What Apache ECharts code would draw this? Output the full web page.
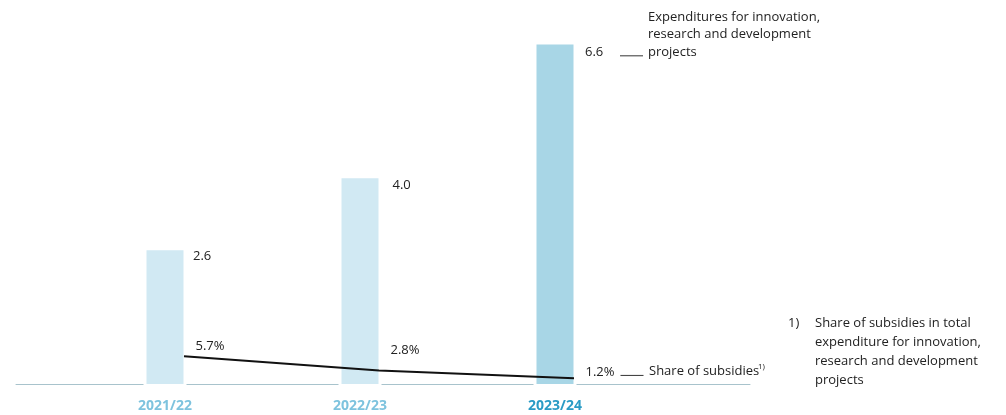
<!DOCTYPE html>
<html lang="en">
<head>
    <meta charset="UTF-8">
    <title>Innovation expenditures</title>
    <script src="https://cdn.jsdelivr.net/npm/echarts@6/dist/echarts.min.js"></script>
    <style>
        html, body { margin: 0; padding: 0; background: #fff; }
        #chart { width: 1006px; height: 415px; }
    </style>
</head>
<body>
    <div id="chart"></div>
    <script>
        // data
        const years = ['2021/22', '2022/23', '2023/24'];
        const expenditures = [2.6, 4.0, 6.6];          // bars
        const subsidyShare = [5.7, 2.8, 1.2];          // line, percent
        const barLegend = 'Expenditures for innovation,\nresearch and development\nprojects';
        const lineLegend = 'Share of subsidies';
        const footnoteMark = '1)';
        const footnote = 'Share of subsidies in total\nexpenditure for innovation,\nresearch and development\nprojects';

        // label nudges (style only)
        const barLabelPos = [[46.5, 6], [51, 7], [48.5, 8]];
        const lineLabelDy = [-10, -20, -6];

        const font = '"Open Sans", "Noto Sans", sans-serif';
        const ink = '#222';
        const barColors = ['#d1e9f3', '#d1e9f3', '#a8d6e6'];
        const yearColors = ['#7ec3de', '#7ec3de', '#2a9bc5'];

        let chart = echarts.init(document.getElementById('chart'));

        // short leader line after the last value of each series
        const tick = { width: 23, height: 1, backgroundColor: '#333', verticalAlign: 'bottom' };

        let barData = expenditures.map(function (v, i) {
            let last = i === expenditures.length - 1;
            return {
                value: v,
                itemStyle: { color: barColors[i] },
                label: {
                    position: barLabelPos[i],
                    formatter: last ? '{v|' + v.toFixed(1) + '}{l|}' : v.toFixed(1)
                }
            };
        });

        let lineData = subsidyShare.map(function (v, i) {
            let last = i === subsidyShare.length - 1;
            return {
                value: v,
                label: {
                    offset: [0, lineLabelDy[i]],
                    formatter: last ? '{v|' + v.toFixed(1) + '%}{l|}' : v.toFixed(1) + '%'
                }
            };
        });

        let richText = {
            v: { width: 35, fontSize: 13, lineHeight: 7.5, fontFamily: font, color: ink },
            l: tick
        };

        const titleStyle = { fontSize: 13, fontWeight: 'normal', color: ink, fontFamily: font };

        let option = {
            animation: false,
            textStyle: { fontFamily: font },
            title: [
                {
                    text: barLegend, left: 648, top: 8.5, padding: 0,
                    textStyle: Object.assign({ lineHeight: 17.5 }, titleStyle)
                },
                {
                    text: lineLegend, left: 649, top: 362.5, padding: 0,
                    textStyle: Object.assign({ lineHeight: 18 }, titleStyle)
                },
                {
                    text: footnoteMark, left: 758, top: 362, padding: 0,
                    textStyle: Object.assign({}, titleStyle, { fontSize: 8, lineHeight: 9 })
                },
                {
                    text: footnoteMark, left: 788, top: 314, padding: 0,
                    textStyle: Object.assign({ lineHeight: 19 }, titleStyle)
                },
                {
                    text: footnote, left: 815, top: 314, padding: 0,
                    textStyle: Object.assign({ lineHeight: 19 }, titleStyle)
                }
            ],
            grid: [
                { left: 16, right: 256, top: 24, bottom: 31 },     // base line only
                { left: 67.5, width: 585, top: 24, bottom: 31 },   // bars
                { left: 86.5, width: 585, top: 24, bottom: 31 },   // line, shifted to bar edges
                { left: 67.5, width: 585, top: 24, bottom: 28 }    // white gaps in the base line
            ],
            xAxis: [
                {
                    gridIndex: 0, type: 'category', data: [''],
                    axisLine: { lineStyle: { color: '#a8c3cc', width: 1 } },
                    axisTick: { show: false }, axisLabel: { show: false }
                },
                {
                    gridIndex: 1, type: 'category', data: years,
                    axisLine: { show: false }, axisTick: { show: false },
                    axisLabel: {
                        margin: 15, fontSize: 14, fontWeight: 'bold', fontFamily: font,
                        color: function (val, idx) { return yearColors[idx]; }
                    }
                },
                { gridIndex: 2, type: 'category', data: years, show: false },
                { gridIndex: 3, type: 'category', data: years, show: false }
            ],
            yAxis: [
                { gridIndex: 0, type: 'value', show: false, min: 0, max: 7 },
                { gridIndex: 1, type: 'value', show: false, min: 0, max: 7 },
                { gridIndex: 2, type: 'value', show: false, min: 0, max: 74 },
                { gridIndex: 3, type: 'value', show: false, min: 0, max: 7 }
            ],
            series: [
                {
                    type: 'bar',
                    xAxisIndex: 3, yAxisIndex: 3,
                    barWidth: 43,
                    itemStyle: { color: '#fff' },
                    silent: true,
                    data: expenditures,
                    z: 2
                },
                {
                    type: 'bar',
                    xAxisIndex: 1, yAxisIndex: 1,
                    barWidth: 37,
                    label: {
                        show: true, align: 'left', verticalAlign: 'middle',
                        fontSize: 13, color: ink, fontFamily: font,
                        rich: richText
                    },
                    data: barData,
                    z: 3
                },
                {
                    type: 'line',
                    xAxisIndex: 2, yAxisIndex: 2,
                    symbol: 'circle', symbolSize: 1,
                    itemStyle: { color: 'rgba(0,0,0,0)' },
                    lineStyle: { color: '#111', width: 2 },
                    label: {
                        show: true, position: 'right', distance: 11,
                        fontSize: 13, color: ink, fontFamily: font,
                        rich: richText
                    },
                    data: lineData,
                    z: 4
                }
            ]
        };

        chart.setOption(option);
    </script>
</body>
</html>
